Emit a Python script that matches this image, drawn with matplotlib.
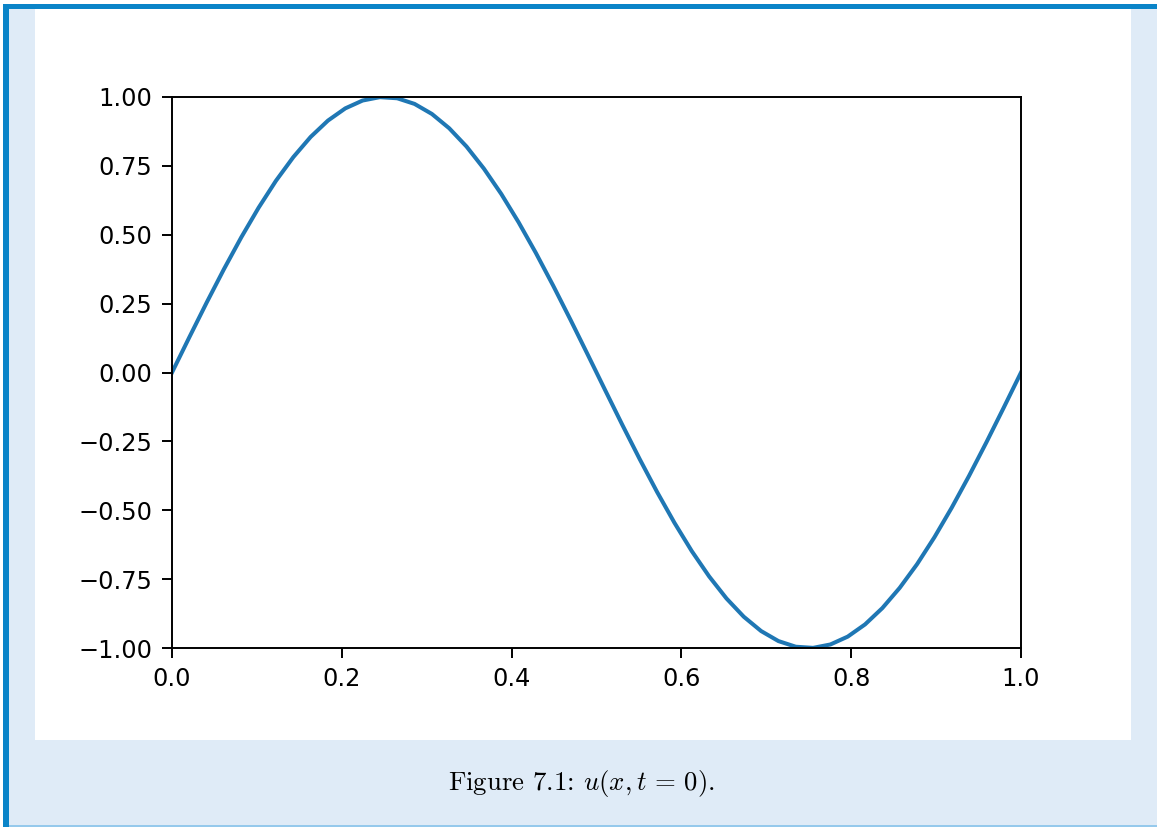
import matplotlib
matplotlib.use("Agg")
import matplotlib.pyplot as plt
from matplotlib.patches import Rectangle

# data: u(x, t=0) sampled at 50 points
x_vals = [0.0, 0.0204, 0.0408, 0.0612, 0.0816, 0.1020, 0.1224, 0.1429, 0.1633, 0.1837,
          0.2041, 0.2245, 0.2449, 0.2653, 0.2857, 0.3061, 0.3265, 0.3469, 0.3673, 0.3878,
          0.4082, 0.4286, 0.4490, 0.4694, 0.4898, 0.5102, 0.5306, 0.5510, 0.5714, 0.5918,
          0.6122, 0.6327, 0.6531, 0.6735, 0.6939, 0.7143, 0.7347, 0.7551, 0.7755, 0.7959,
          0.8163, 0.8367, 0.8571, 0.8776, 0.8980, 0.9184, 0.9388, 0.9592, 0.9796, 1.0]
u_vals = [0.0, 0.1279, 0.2537, 0.3753, 0.4907, 0.5981, 0.6957, 0.7818, 0.8551, 0.9144,
          0.9587, 0.9872, 0.9995, 0.9954, 0.9749, 0.9385, 0.8866, 0.8202, 0.7403, 0.6482,
          0.5455, 0.4339, 0.3151, 0.1912, 0.0641, -0.0641, -0.1912, -0.3151, -0.4339, -0.5455,
          -0.6482, -0.7403, -0.8202, -0.8866, -0.9385, -0.9749, -0.9954, -0.9995, -0.9872, -0.9587,
          -0.9144, -0.8551, -0.7818, -0.6957, -0.5981, -0.4907, -0.3753, -0.2537, -0.1279, 0.0]
x_ticks = [0.0, 0.2, 0.4, 0.6, 0.8, 1.0]
y_ticks = [-1.0, -0.75, -0.5, -0.25, 0.0, 0.25, 0.5, 0.75, 1.0]
caption = "Figure 7.1: $u(x,t\\,=\\,0)$."

W, H = 1157, 827
plt.rcParams['mathtext.fontset'] = 'cm'
fig = plt.figure(figsize=(W / 100, H / 100), dpi=100, facecolor='white')

def px_rect(x0, y0, x1, y1, color, z):
    fig.patches.append(Rectangle((x0 / W, 1 - y1 / H), (x1 - x0) / W, (y1 - y0) / H,
                                 transform=fig.transFigure, facecolor=color,
                                 edgecolor='none', zorder=z))

# page frame
px_rect(8, 9, W, 827, '#dfebf7', 0)
px_rect(3, 4, W, 9, '#0a84c8', 1)
px_rect(3, 4, 9, 827, '#0a84c8', 1)
px_rect(9, 825, W, 827, '#95c9ec', 1)
px_rect(35, 9, 1131, 740, 'white', 1)

ax = fig.add_axes([172 / W, 1 - 648 / H, 849 / W, 551 / H])
ax.set_zorder(2)
ax.plot(x_vals, u_vals, color='#1f77b4', linewidth=2.9)
ax.set_xlim(0, 1)
ax.set_ylim(-1, 1)
ax.set_xticks(x_ticks)
ax.set_yticks(y_ticks)
ax.set_xticklabels([f"{v:.1f}" for v in x_ticks])
ax.set_yticklabels([f"{v:.2f}".replace('-', '\u2212') for v in y_ticks])
ax.tick_params(labelsize=17.3, length=7, width=1.4, pad=7)
for s in ax.spines.values():
    s.set_linewidth(1.4)

fig.text(581.5 / W, 1 - 790 / H, caption, ha='center', va='baseline',
         fontsize=19.3, family='cmr10')

fig.savefig('out.png', dpi=100, facecolor=fig.get_facecolor())
